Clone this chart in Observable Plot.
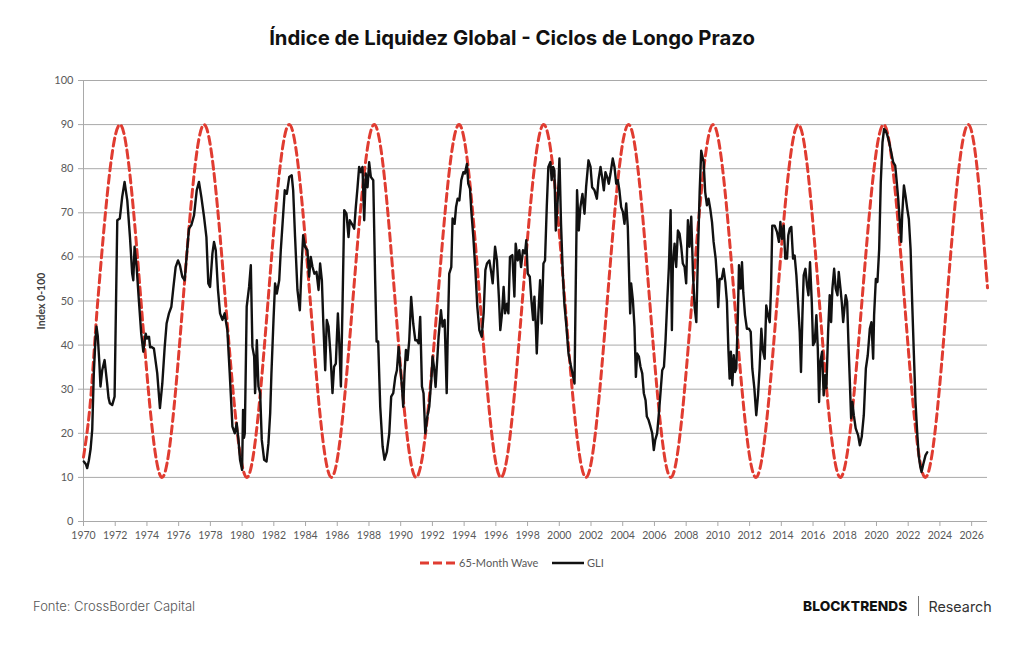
<!DOCTYPE html>
<html>
<head>
<meta charset="utf-8">
<script src="https://cdn.jsdelivr.net/npm/d3@7"></script>
<script src="https://cdn.jsdelivr.net/npm/@observablehq/plot@0.6"></script>
<style>
  html, body { margin: 0; padding: 0; background: #fff; }
  body { position: relative; width: 1024px; height: 645px; overflow: hidden; font-family: Inter, "Open Sans", sans-serif; }
  #title { position: absolute; top: 25px; left: 0; width: 1024px; text-align: center; font-weight: 700; font-size: 20.3px; color: #111; }
  #chart { position: absolute; top: 70px; left: 0; }
  #ylabel { position: absolute; left: 41px; top: 301px; transform: translate(-50%, -50%) rotate(-90deg); font-family: Lato, sans-serif; font-weight: 700; font-size: 10.5px; color: #404040; white-space: nowrap; }
  .leg { position: absolute; top: 556px; font-family: Lato, sans-serif; font-size: 11px; color: #595959; display: flex; align-items: center; white-space: nowrap; }
  .leg svg { margin-right: 3px; }
  #source { position: absolute; left: 33px; top: 598px; font-size: 13px; font-weight: 300; color: #555; }
  #brand { position: absolute; left: 803px; top: 596px; display: flex; align-items: center; font-size: 13.7px; color: #111; }
  #brand b { font-weight: 800; letter-spacing: 0.1px; }
  #brand .sep { width: 1px; height: 20px; background: #777; margin: 0 10px 0 10px; }
  #brand span { font-weight: 400; font-size: 14.3px; color: #333; }
</style>
</head>
<body>
<div id="title">Índice de Liquidez Global - Ciclos de Longo Prazo</div>
<div id="chart"></div>
<div id="ylabel">Index 0-100</div>
<div class="leg" style="left:420px">
  <svg width="36" height="6"><line x1="0" y1="3" x2="36" y2="3" stroke="#e03c31" stroke-width="3" stroke-dasharray="9,4"/></svg>65-Month Wave
</div>
<div class="leg" style="left:552px">
  <svg width="32" height="6"><line x1="0" y1="3" x2="32" y2="3" stroke="#111" stroke-width="2.5"/></svg>GLI
</div>
<div id="source">Fonte: CrossBorder Capital</div>
<div id="brand"><b>BLOCKTRENDS</b><div class="sep"></div><span>Research</span></div>
<script>
// Axis ticks
const yearTicks = d3.range(1970, 2027, 2);
const indexTicks = d3.range(0, 101, 10);

// 65-month wave: start values, turning points (peaks 90, troughs 10) and end value
const waveYear = [1970, 1970.4, 1970.9, 1972.3, 1974.95, 1977.6, 1980.3, 1982.97, 1985.63, 1988.33, 1990.97, 1993.68,
  1996.32, 1999.02, 2001.68, 2004.37, 2007.03, 2009.7, 2012.4, 2015.07, 2017.72, 2020.45, 2023.08, 2025.79, 2027];
const waveValue = [14.6, 25.8, 50, 90, 10, 90, 10, 90, 10, 90, 10, 90,
  10, 90, 10, 90, 10, 90, 10, 90, 10, 90, 10, 90, 53];

// Global Liquidity Index (GLI), 0-100
const gliYear = [
  1970.02, 1970.15, 1970.23, 1970.34, 1970.45, 1970.55, 1970.65, 1970.75, 1970.82, 1970.9, 1971.0, 1971.07,
  1971.18, 1971.33, 1971.49, 1971.58, 1971.66, 1971.81, 1971.96, 1972.13, 1972.29, 1972.44, 1972.59, 1972.76,
  1972.93, 1973.07, 1973.14, 1973.22, 1973.35, 1973.49, 1973.64, 1973.77, 1973.92, 1974.0, 1974.13, 1974.2,
  1974.27, 1974.44, 1974.65, 1974.82, 1974.97, 1975.12, 1975.24, 1975.39, 1975.54, 1975.66, 1975.81, 1975.96,
  1976.08, 1976.23, 1976.38, 1976.5, 1976.65, 1976.8, 1976.97, 1977.14, 1977.28, 1977.43, 1977.6, 1977.75,
  1977.87, 1977.98, 1978.13, 1978.23, 1978.34, 1978.48, 1978.61, 1978.76, 1978.9, 1979.07, 1979.22, 1979.39,
  1979.54, 1979.66, 1979.77, 1979.87, 1980.0, 1980.06, 1980.12, 1980.17, 1980.29, 1980.44, 1980.55, 1980.65,
  1980.76, 1980.82, 1980.93, 1981.03, 1981.14, 1981.24, 1981.39, 1981.54, 1981.66, 1981.77, 1981.85, 1981.98,
  1982.08, 1982.19, 1982.34, 1982.44, 1982.55, 1982.69, 1982.82, 1982.97, 1983.13, 1983.22, 1983.34, 1983.49,
  1983.64, 1983.76, 1983.85, 1983.97, 1984.12, 1984.23, 1984.33, 1984.44, 1984.56, 1984.69, 1984.82, 1984.92,
  1985.03, 1985.13, 1985.24, 1985.34, 1985.45, 1985.57, 1985.7, 1985.8, 1985.91, 1986.04, 1986.12, 1986.23,
  1986.33, 1986.44, 1986.58, 1986.71, 1986.79, 1986.92, 1987.07, 1987.17, 1987.28, 1987.38, 1987.49, 1987.59,
  1987.7, 1987.8, 1987.91, 1988.01, 1988.12, 1988.27, 1988.39, 1988.48, 1988.58, 1988.71, 1988.86, 1988.98,
  1989.13, 1989.28, 1989.4, 1989.53, 1989.66, 1989.76, 1989.87, 1989.97, 1990.08, 1990.16, 1990.24, 1990.33,
  1990.43, 1990.54, 1990.66, 1990.79, 1990.92, 1991.02, 1991.13, 1991.23, 1991.34, 1991.44, 1991.55, 1991.68,
  1991.8, 1991.93, 1992.01, 1992.1, 1992.2, 1992.39, 1992.54, 1992.64, 1992.77, 1992.9, 1992.96, 1993.06,
  1993.19, 1993.27, 1993.4, 1993.49, 1993.59, 1993.7, 1993.82, 1993.95, 1994.05, 1994.18, 1994.26, 1994.37,
  1994.45, 1994.58, 1994.71, 1994.83, 1994.96, 1995.11, 1995.23, 1995.34, 1995.44, 1995.59, 1995.72, 1995.8,
  1995.95, 1996.07, 1996.2, 1996.28, 1996.39, 1996.49, 1996.58, 1996.7, 1996.79, 1996.89, 1997.04, 1997.17,
  1997.25, 1997.38, 1997.48, 1997.59, 1997.71, 1997.84, 1997.92, 1998.01, 1998.14, 1998.24, 1998.35, 1998.43,
  1998.52, 1998.58, 1998.68, 1998.79, 1998.89, 1999.0, 1999.1, 1999.21, 1999.31, 1999.44, 1999.52, 1999.61,
  1999.69, 1999.78, 1999.9, 2000.01, 2000.11, 2000.22, 2000.32, 2000.45, 2000.58, 2000.7, 2000.83, 2000.96,
  2001.04, 2001.12, 2001.23, 2001.33, 2001.46, 2001.59, 2001.69, 2001.84, 2001.97, 2002.07, 2002.22, 2002.37,
  2002.47, 2002.6, 2002.7, 2002.81, 2002.91, 2003.02, 2003.12, 2003.23, 2003.37, 2003.48, 2003.59, 2003.69,
  2003.79, 2003.9, 2004.01, 2004.11, 2004.22, 2004.32, 2004.41, 2004.47, 2004.53, 2004.64, 2004.74, 2004.83,
  2004.91, 2005.02, 2005.12, 2005.23, 2005.33, 2005.44, 2005.52, 2005.63, 2005.75, 2005.86, 2005.96, 2006.05,
  2006.17, 2006.28, 2006.38, 2006.49, 2006.6, 2006.7, 2006.81, 2006.91, 2007.02, 2007.1, 2007.16, 2007.27,
  2007.37, 2007.48, 2007.58, 2007.69, 2007.79, 2007.9, 2008.0, 2008.11, 2008.21, 2008.32, 2008.43, 2008.53,
  2008.64, 2008.74, 2008.85, 2008.95, 2009.01, 2009.1, 2009.2, 2009.31, 2009.41, 2009.52, 2009.63, 2009.73,
  2009.86, 2009.96, 2010.02, 2010.11, 2010.24, 2010.36, 2010.47, 2010.57, 2010.66, 2010.74, 2010.82, 2010.91,
  2011.0, 2011.08, 2011.16, 2011.25, 2011.33, 2011.44, 2011.52, 2011.6, 2011.71, 2011.83, 2011.96, 2012.07,
  2012.17, 2012.3, 2012.42, 2012.53, 2012.63, 2012.74, 2012.84, 2012.95, 2013.05, 2013.16, 2013.27, 2013.35,
  2013.43, 2013.58, 2013.73, 2013.85, 2013.94, 2014.04, 2014.15, 2014.25, 2014.36, 2014.44, 2014.53, 2014.63,
  2014.74, 2014.84, 2014.95, 2015.05, 2015.16, 2015.24, 2015.33, 2015.41, 2015.52, 2015.62, 2015.71, 2015.81,
  2015.92, 2016.0, 2016.11, 2016.21, 2016.3, 2016.38, 2016.46, 2016.57, 2016.67, 2016.76, 2016.84, 2016.95,
  2017.05, 2017.14, 2017.22, 2017.33, 2017.43, 2017.54, 2017.62, 2017.73, 2017.81, 2017.9, 2017.98, 2018.06,
  2018.15, 2018.23, 2018.32, 2018.4, 2018.48, 2018.57, 2018.69, 2018.84, 2018.95, 2019.07, 2019.2, 2019.33,
  2019.45, 2019.58, 2019.68, 2019.79, 2019.85, 2019.96, 2020.06, 2020.17, 2020.27, 2020.38, 2020.48, 2020.59,
  2020.69, 2020.8, 2020.93, 2021.05, 2021.18, 2021.26, 2021.37, 2021.47, 2021.56, 2021.62, 2021.73, 2021.83,
  2021.94, 2022.04, 2022.15, 2022.25, 2022.36, 2022.46, 2022.57, 2022.66, 2022.76, 2022.84, 2022.95, 2023.09,
  2023.2
];
const gliValue = [
  13.6, 13.0, 12.1, 13.9, 16.5, 20.8, 33.6, 41.0, 44.2, 42.0, 36.0, 30.6,
  34.3, 36.6, 31.3, 28.0, 26.8, 26.4, 28.3, 68.3, 68.7, 73.6, 77.0, 72.8,
  64.5, 56.2, 54.7, 62.3, 57.7, 50.2, 42.6, 38.5, 42.6, 41.5, 41.9, 39.5,
  39.6, 39.2, 33.6, 25.7, 31.3, 39.6, 44.9, 47.2, 48.7, 52.8, 57.7, 59.2,
  58.1, 55.5, 54.7, 60.0, 66.4, 67.2, 69.4, 75.1, 77.0, 73.6, 69.1, 64.5,
  54.0, 53.2, 60.8, 63.4, 61.5, 52.5, 47.2, 45.7, 47.2, 43.4, 33.6, 21.5,
  20.0, 22.3, 18.5, 14.0, 11.7, 25.3, 19.0, 20.0, 48.7, 53.2, 58.1, 39.6,
  37.4, 29.1, 41.1, 30.6, 29.1, 18.5, 14.0, 13.6, 17.7, 24.5, 33.6, 45.7,
  54.0, 51.7, 54.7, 61.5, 67.5, 75.1, 74.3, 78.1, 78.5, 75.1, 64.5, 52.5,
  47.9, 58.5, 64.9, 62.3, 61.5, 55.5, 60.0, 57.7, 56.2, 56.6, 52.5, 58.5,
  54.7, 44.2, 34.3, 45.7, 44.2, 38.1, 29.1, 35.1, 35.8, 47.2, 41.1, 30.6,
  48.7, 70.6, 69.8, 64.5, 68.3, 67.5, 66.4, 71.3, 75.8, 80.4, 79.2, 80.4,
  68.3, 78.9, 75.8, 81.5, 78.1, 77.4, 54.7, 40.8, 40.8, 26.0, 17.0, 14.0,
  15.8, 20.0, 28.3, 29.1, 32.8, 34.3, 39.6, 35.1, 30.6, 26.0, 33.6, 38.9,
  36.6, 41.1, 50.9, 44.9, 41.1, 41.1, 40.4, 46.4, 30.6, 29.1, 20.0, 23.8,
  26.0, 32.1, 37.4, 35.1, 30.5, 41.9, 47.9, 44.2, 45.7, 29.1, 41.1, 56.2,
  57.7, 68.7, 67.5, 71.3, 73.2, 72.8, 77.4, 79.2, 78.9, 81.1, 76.6, 75.5,
  70.6, 64.5, 57.0, 48.7, 43.4, 41.9, 47.2, 57.0, 58.5, 59.2, 56.2, 54.0,
  62.3, 59.2, 50.2, 43.4, 47.2, 53.2, 47.2, 49.4, 47.2, 60.0, 60.4, 51.0,
  63.0, 59.2, 61.5, 57.7, 61.5, 60.8, 63.8, 56.2, 55.5, 50.2, 45.7, 51.0,
  44.2, 38.1, 47.2, 54.7, 44.9, 58.5, 59.2, 71.3, 80.4, 81.5, 77.4, 80.4,
  79.6, 66.0, 72.8, 82.3, 67.5, 56.2, 49.4, 44.2, 38.1, 35.8, 33.6, 31.3,
  54.0, 75.1, 66.0, 71.3, 74.3, 69.8, 75.8, 81.9, 80.4, 75.8, 75.1, 73.2,
  77.4, 80.4, 78.1, 75.1, 79.2, 78.1, 76.6, 78.9, 82.3, 80.4, 76.6, 77.4,
  75.1, 71.3, 70.2, 67.5, 72.1, 66.8, 54.7, 47.2, 54.0, 50.2, 44.2, 32.8,
  38.1, 37.4, 35.1, 33.6, 29.1, 27.5, 23.8, 23.0, 21.5, 20.0, 16.2, 18.5,
  20.0, 24.5, 29.1, 34.3, 35.1, 41.1, 50.2, 57.7, 70.6, 43.4, 58.1, 63.0,
  57.7, 66.0, 65.3, 62.3, 58.5, 57.7, 54.0, 68.3, 62.3, 69.1, 56.2, 48.7,
  45.2, 60.3, 74.7, 84.1, 83.0, 81.5, 74.7, 71.7, 73.2, 70.9, 67.9, 63.4,
  59.6, 54.3, 48.6, 55.0, 55.0, 57.3, 54.3, 49.8, 39.2, 32.4, 38.5, 30.9,
  37.7, 33.9, 34.7, 45.2, 58.1, 52.8, 58.8, 52.0, 46.8, 43.7, 43.7, 43.0,
  34.7, 30.2, 24.1, 28.6, 34.7, 43.7, 38.8, 36.9, 49.0, 46.8, 45.2, 52.8,
  67.1, 67.1, 65.6, 63.4, 67.9, 64.1, 67.1, 59.6, 59.6, 64.9, 66.4, 66.8,
  59.6, 60.3, 55.8, 49.8, 43.0, 33.9, 46.8, 55.8, 57.3, 53.5, 51.3, 58.8,
  49.8, 40.0, 40.7, 46.8, 39.2, 27.1, 36.2, 38.5, 28.6, 33.2, 30.2, 43.0,
  51.3, 45.2, 52.8, 57.3, 52.8, 51.3, 56.6, 52.8, 49.8, 45.2, 48.3, 51.3,
  49.8, 40.7, 31.7, 23.4, 27.1, 24.1, 21.1, 19.6, 17.3, 19.2, 24.1, 34.7,
  37.7, 43.7, 45.2, 36.9, 46.8, 55.0, 54.3, 61.8, 76.9, 86.0, 89.0, 88.6,
  87.5, 86.0, 83.7, 81.5, 80.7, 77.7, 73.2, 67.9, 63.4, 69.4, 76.2, 73.9,
  70.9, 68.6, 61.8, 49.8, 37.7, 27.1, 20.0, 15.0, 12.5, 11.2, 13.0, 15.0,
  15.7
];

const wave = waveYear.map((t, i) => ({year: t, value: waveValue[i]}));
const gli = gliYear.map((t, i) => ({year: t, value: gliValue[i]}));

const gridColor = "#a9a9a9";
const textColor = "#595959";

const chart = Plot.plot({
  width: 1024,
  height: 480,
  marginLeft: 83,
  marginRight: 37,
  marginTop: 10,
  marginBottom: 29,
  x: {domain: [1970, 2027], label: null},
  y: {domain: [0, 100], label: null},
  style: {fontFamily: "Lato, sans-serif", background: "#fff", overflow: "visible"},
  marks: [
    Plot.ruleY(indexTicks, {stroke: gridColor, strokeWidth: 1}),
    Plot.ruleX([1970], {stroke: gridColor, strokeWidth: 1}),
    Plot.axisY({ticks: indexTicks, tickSize: 5, tickPadding: 5, stroke: gridColor, fill: textColor, fontSize: 11, label: null}),
    Plot.axisX({ticks: yearTicks, tickFormat: d => String(d), tickSize: 5, tickPadding: 5, stroke: gridColor, fill: textColor, fontSize: 10.5, label: null}),
    Plot.line(wave, {x: "year", y: "value", curve: "monotone-x", stroke: "#e03c31", strokeWidth: 3, strokeDasharray: "8,4.5"}),
    Plot.line(gli, {x: "year", y: "value", stroke: "#111", strokeWidth: 2.4, strokeLinejoin: "round"})
  ]
});
document.getElementById("chart").appendChild(chart);
</script>
</body>
</html>
